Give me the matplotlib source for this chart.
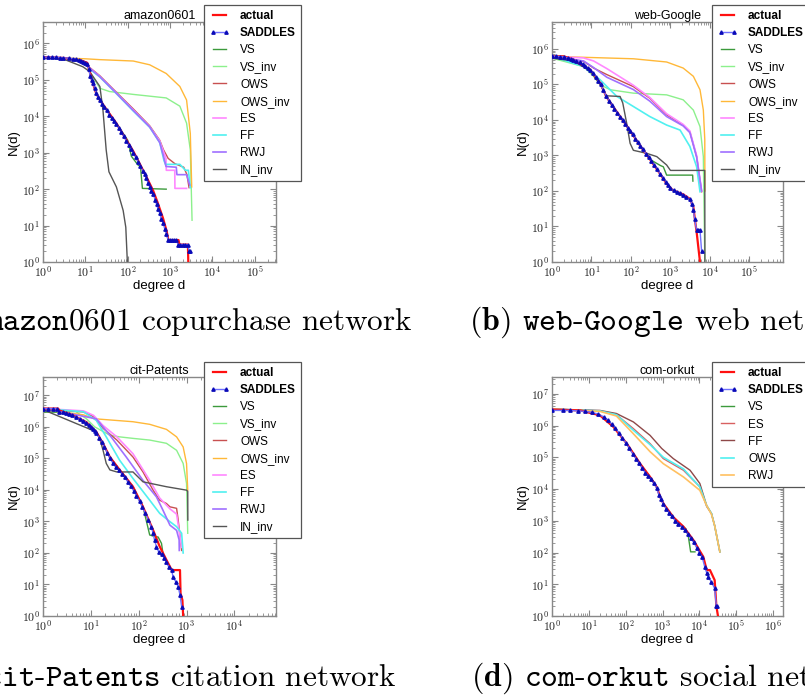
import matplotlib
matplotlib.use("Agg")
import numpy as np
import matplotlib.pyplot as plt
from matplotlib.ticker import LogLocator, FuncFormatter, NullFormatter

plt.rcParams['font.family'] = ['Liberation Sans', 'DejaVu Sans']
plt.rcParams['mathtext.fontset'] = 'cm'

# ---------------- data: (degree d, N(d)) ----------------
# (a) amazon0601
AMZ_ACTUAL = [(1, 4.2e5), (3.2, 4.0e5), (7.9, 3.4e5), (11, 2.95e5), (12.6, 1.7e5), (15, 8.1e4), (18, 4.3e4),
              (22, 2.8e4), (32, 1.5e4), (54, 6.4e3), (135, 1.1e3), (275, 220), (400, 90), (500, 45), (680, 16),
              (830, 7), (910, 4), (1580, 4), (1660, 3), (2630, 3), (2690, 1)]
AMZ_SADDLES = [(1, 4.2e5), (1.3, 4.2e5), (1.6, 4.2e5), (2, 4.15e5), (2.5, 4.1e5), (3, 4.05e5), (4, 3.95e5),
               (5, 3.85e5), (6, 3.7e5), (7, 3.5e5), (8, 3.35e5), (9, 3.15e5), (10, 3.0e5), (11, 2.7e5),
               (12, 2.0e5), (13, 1.3e5), (14, 1.0e5), (15, 8.0e4), (16.5, 6.0e4), (18, 4.4e4), (20, 3.4e4),
               (22, 2.8e4), (25, 2.2e4), (28, 1.8e4), (32, 1.45e4), (37, 1.1e4), (42, 8.8e3), (48, 7.3e3),
               (54, 6.2e3), (62, 4.8e3), (71, 3.7e3), (81, 2.8e3), (93, 2.1e3), (106, 1.6e3), (120, 1.3e3),
               (135, 1.0e3), (155, 750), (175, 560), (200, 420), (225, 320), (250, 260), (275, 200), (300, 150),
               (330, 115), (360, 90), (400, 75), (440, 52), (480, 38), (520, 28), (570, 22), (620, 15),
               (680, 12), (750, 8), (820, 6), (900, 4), (1000, 4), (1100, 4), (1250, 4), (1400, 4), (1550, 3),
               (1750, 3), (2000, 3), (2300, 3), (2600, 3), (2800, 2), (3000, 2)]
AMZ_VS = [(1, 4.2e5), (3.2, 4.0e5), (7.9, 3.4e5), (11, 2.95e5), (12.6, 1.7e5), (15, 8.1e4), (18, 4.3e4),
          (22, 2.8e4), (32, 1.5e4), (54, 6.4e3), (100, 2.2e3), (122, 800), (175, 460), (200, 420), (222, 105),
          (810, 100)]
AMZ_VS_INV = [(1, 4.2e5), (3.2, 4.0e5), (7.9, 3.4e5), (11, 2.95e5), (12.6, 1.7e5), (22, 5.9e4), (37, 4.8e4),
              (135, 4.0e4), (810, 3.2e4), (1700, 1.9e4), (2450, 6.5e3), (3000, 1.2e3), (3300, 14)]
AMZ_OWS = [(1, 4.2e5), (3.2, 4.0e5), (7.9, 3.4e5), (11, 2.95e5), (12.6, 2.2e5), (22, 1.3e5), (54, 4.6e4),
           (135, 1.6e4), (330, 5.5e3), (570, 2.2e3), (700, 1.2e3), (900, 700), (1300, 500), (2100, 400),
           (2500, 250), (2800, 110)]
AMZ_OWS_INV = [(1, 4.15e5), (10, 3.8e5), (22, 3.6e5), (135, 3.3e5), (330, 2.6e5), (810, 1.5e5), (1700, 6.6e4),
               (2450, 2.8e4), (3000, 3.4e3), (3240, 115)]
AMZ_ES = [(1, 4.2e5), (3.2, 4.0e5), (7.9, 3.4e5), (11, 2.95e5), (12.6, 2.1e5), (22, 1.25e5), (54, 4.4e4),
          (135, 1.5e4), (330, 5.2e3), (570, 2.1e3), (800, 700), (815, 330), (1290, 330), (1300, 105),
          (2450, 105)]
AMZ_FF = [(1, 4.2e5), (3.2, 4.0e5), (7.9, 3.4e5), (11, 2.95e5), (12.6, 2.0e5), (22, 1.2e5), (54, 4.2e4),
          (135, 1.4e4), (330, 5.0e3), (570, 1.9e3), (720, 600), (780, 480), (1700, 480), (2300, 330),
          (2700, 330), (3000, 110)]
AMZ_RWJ = [(1, 4.2e5), (3.2, 4.0e5), (7.9, 3.4e5), (11, 2.95e5), (12.6, 2.1e5), (22, 1.22e5), (54, 4.3e4),
           (135, 1.45e4), (330, 5.1e3), (570, 1.9e3), (700, 800), (800, 420), (1400, 400), (1450, 250),
           (2450, 250), (2900, 130)]
AMZ_IN_INV = [(1, 4.2e5), (3.5, 3.5e5), (8.7, 2.3e5), (12.6, 1.7e5), (22, 6.6e4), (26, 1.5e4), (31, 1.2e3),
              (36, 300), (54, 115), (78, 26), (90, 9), (98, 1)]

# (b) web-Google
WEB_ACTUAL = [(1, 6.2e5), (2, 6.2e5), (3.5, 5.0e5), (9.3, 2.6e5), (16.6, 1.1e5), (23.6, 4.6e4), (36, 2.3e4),
              (53, 1.26e4), (95, 5.0e3), (170, 1.9e3), (300, 790), (550, 300), (800, 160), (1100, 110),
              (1440, 95), (2100, 80), (3100, 60), (3800, 35), (4300, 12), (4600, 7), (5100, 2.5), (5600, 1)]
WEB_SADDLES = [(1, 6.2e5), (1.3, 6.2e5), (1.6, 6.1e5), (2, 6.0e5), (2.5, 5.6e5), (3, 5.3e5), (3.5, 5.0e5),
               (4, 4.7e5), (5, 4.2e5), (6, 3.7e5), (7, 3.3e5), (8, 2.9e5), (9.3, 2.6e5), (11, 2.1e5),
               (13, 1.6e5), (15, 1.25e5), (17, 1.0e5), (20, 7.0e4), (23.6, 4.6e4), (28, 3.5e4), (33, 2.6e4),
               (38, 2.1e4), (45, 1.6e4), (53, 1.25e4), (62, 9.8e3), (72, 7.8e3), (83, 6.0e3), (95, 5.0e3),
               (110, 4.0e3), (130, 3.0e3), (150, 2.4e3), (170, 1.9e3), (200, 1.5e3), (240, 1.1e3), (280, 880),
               (330, 700), (390, 540), (460, 410), (550, 300), (650, 230), (760, 180), (880, 145), (1000, 120),
               (1200, 105), (1440, 95), (1750, 85), (2100, 78), (2500, 68), (3100, 58), (3500, 42), (3800, 30),
               (4100, 16), (4600, 8), (5100, 8), (5600, 8), (6150, 2)]
WEB_VS = [(1, 6.2e5), (2, 6.2e5), (3.5, 5.0e5), (9.3, 2.6e5), (16.6, 1.1e5), (23.6, 4.6e4), (36, 2.3e4),
          (53, 1.26e4), (95, 5.0e3), (170, 1.9e3), (300, 790), (370, 680), (560, 520), (660, 480), (800, 280),
          (3650, 280), (3700, 190)]
WEB_VS_INV = [(1, 5.5e5), (6.3, 3.2e5), (11.3, 1.7e5), (16.6, 9.8e4), (30, 7.1e4), (115, 5.7e4), (800, 5.1e4),
              (2100, 3.7e4), (3800, 1.9e4), (5600, 6.5e3), (6800, 930), (7400, 1.1)]
WEB_OWS = [(1, 6.2e5), (6.3, 4.5e5), (11.3, 2.9e5), (24.5, 1.9e5), (115, 8.7e4), (300, 4.1e4), (800, 1.4e4),
           (2100, 7.2e3), (3100, 4.7e3), (4600, 930), (6150, 95)]
WEB_OWS_INV = [(1, 6.2e5), (115, 5.3e5), (800, 4.3e5), (2100, 2.9e5), (3800, 1.7e5), (5600, 7.1e4),
               (6800, 1.9e4), (7400, 2.8e3), (7450, 100)]
WEB_ES = [(1, 6.2e5), (6.3, 5.6e5), (11.3, 4.6e5), (24.5, 2.8e5), (115, 9.5e4), (300, 4.3e4), (800, 1.5e4),
          (2100, 7.5e3), (3100, 4.9e3), (4600, 1.0e3), (6150, 100)]
WEB_FF = [(1, 6.2e5), (6.3, 3.2e5), (16.6, 1.35e5), (44, 4.6e4), (115, 2.4e4), (300, 1.25e4), (800, 7.2e3),
          (1750, 5.2e3), (3100, 1.8e3), (4600, 480), (5600, 95)]
WEB_RWJ = [(1, 6.2e5), (6.3, 4.6e5), (11.3, 3.0e5), (24.5, 1.6e5), (115, 7.2e4), (300, 3.4e4), (800, 1.25e4),
           (2100, 6.8e3), (3100, 4.4e3), (4600, 900), (6150, 100)]
WEB_IN_INV = [(1, 5.5e5), (3.5, 4.6e5), (9.3, 2.4e5), (16.6, 1.0e5), (24, 4.8e4), (53, 4.6e4), (62, 3.0e4),
              (78, 8e3), (95, 2.2e3), (115, 1.4e3), (250, 1.15e3), (450, 930), (800, 540), (1000, 380),
              (7400, 380), (7450, 1)]

# (c) cit-Patents
PAT_ACTUAL = [(1, 3.8e6), (2.06, 3.8e6), (2.2, 3.3e6), (4.25, 2.3e6), (8.1, 1.4e6), (13, 6.9e5), (18, 2.9e5),
              (25, 1.1e5), (40, 4.3e4), (76, 1.26e4), (123, 2.9e3), (200, 530), (275, 160), (380, 60),
              (490, 28.6), (730, 28.6), (750, 5.2), (820, 3.2), (850, 1)]
PAT_SADDLES = [(1, 3.8e6), (1.3, 3.8e6), (1.6, 3.8e6), (2, 3.8e6), (2.2, 3.0e6), (2.6, 2.9e6), (3, 2.7e6),
               (3.5, 2.5e6), (4, 2.3e6), (5, 2.0e6), (6, 1.75e6), (7, 1.55e6), (8, 1.35e6), (9, 1.15e6),
               (10, 1.0e6), (11, 8.5e5), (12, 7.2e5), (13, 6.3e5), (15, 4.5e5), (17, 3.2e5), (19, 2.3e5),
               (22, 1.5e5), (25, 1.0e5), (29, 7.0e4), (33, 5.3e4), (38, 4.3e4), (44, 3.3e4), (51, 2.5e4),
               (59, 1.8e4), (68, 1.3e4), (78, 9.5e3), (90, 6.5e3), (104, 4.3e3), (120, 2.8e3), (138, 1.8e3),
               (160, 1.1e3), (185, 650), (200, 420), (215, 250), (235, 160), (260, 110), (300, 90),
               (340, 70), (380, 50), (430, 35), (490, 28), (525, 17), (600, 12), (670, 8.5), (730, 4.6),
               (790, 2)]
PAT_VS = [(1, 2.95e6), (2.2, 2.9e6), (4.25, 2.2e6), (8.1, 1.4e6), (13, 6.9e5), (18, 2.9e5), (25, 1.1e5),
          (40, 4.3e4), (76, 1.26e4), (123, 2.9e3), (170, 370), (218, 330), (255, 320), (300, 200), (320, 100)]
PAT_VS_INV = [(1, 3.3e6), (4.9, 3.0e6), (8.1, 1.8e6), (12, 1.0e6), (25, 5.4e5), (40, 4.8e5), (76, 4.3e5),
              (170, 3.8e5), (380, 3.0e5), (620, 1.8e5), (850, 6.9e4), (1000, 1.6e4), (1060, 420)]
PAT_OWS = [(1, 3.8e6), (7, 2.95e6), (11.4, 2.1e6), (18, 9e5), (35, 3.8e5), (76, 1.1e5), (123, 3.7e4),
           (200, 9.8e3), (275, 4.7e3), (380, 3.7e3), (450, 2.9e3), (620, 2.6e3), (670, 1.1e3), (790, 120)]
PAT_OWS_INV = [(1, 3.5e6), (7, 2.4e6), (12, 1.8e6), (76, 1.45e6), (170, 1.2e6), (380, 8.3e5), (620, 4.8e5),
               (850, 2.3e5), (1000, 6.9e4), (1060, 9.8e3)]
PAT_ES = [(1, 3.8e6), (7, 3.2e6), (11.4, 2.3e6), (18, 1.1e6), (35, 4.8e5), (76, 1.4e5), (170, 2.0e4),
          (275, 5.5e3), (450, 2.5e3), (620, 1.7e3), (790, 150)]
PAT_FF = [(1, 3.8e6), (7, 3.0e6), (13, 1.6e6), (21, 4.8e5), (40, 8.7e4), (76, 2.3e4), (170, 4.7e3),
          (275, 1.8e3), (450, 980), (620, 680), (790, 420), (850, 100)]
PAT_RWJ = [(1, 3.8e6), (13, 1.8e6), (25, 5.4e5), (55, 1.1e5), (123, 2.0e4), (235, 6.0e3), (320, 2.3e3),
           (450, 760), (620, 520), (700, 260), (705, 120)]
PAT_IN_INV = [(1, 3.5e6), (13, 6.9e5), (15, 4.8e5), (18, 1.8e5), (21, 6.9e4), (25, 4.3e4), (35, 3.7e4),
              (76, 3.7e4), (123, 1.8e4), (380, 1.26e4), (1000, 9.8e3), (1060, 9e3), (1065, 1.1e3)]

# (d) com-orkut
ORK_ACTUAL = [(1, 3.2e6), (5.9, 3.0e6), (20, 2.1e6), (47, 9e5), (107, 2.7e5), (246, 6.3e4), (460, 2.4e4),
              (690, 1.17e4), (860, 5.7e3), (1050, 3.5e3), (1960, 1.3e3), (3700, 650), (6900, 245),
              (12800, 73), (15800, 28), (19400, 28), (26000, 13.5), (29000, 2), (32000, 1)]
ORK_SADDLES = [(1, 3.0e6), (2, 3.0e6), (3, 3.0e6), (5, 2.9e6), (8, 2.8e6), (12, 2.6e6), (18, 2.3e6),
               (25, 1.9e6), (33, 1.5e6), (42, 1.1e6), (52, 8.5e5), (65, 6.0e5), (80, 4.2e5), (100, 2.9e5),
               (125, 1.9e5), (155, 1.3e5), (190, 9.0e4), (230, 6.5e4), (280, 4.5e4), (340, 3.3e4),
               (410, 2.6e4), (490, 2.0e4), (580, 1.5e4), (690, 1.1e4), (800, 6.5e3), (900, 4.8e3),
               (1050, 3.4e3), (1250, 2.4e3), (1500, 1.8e3), (1800, 1.4e3), (2200, 1.0e3), (2700, 800),
               (3300, 650), (4000, 520), (4800, 380), (5800, 280), (7000, 210), (8500, 140), (10000, 100),
               (12000, 70), (14000, 35), (16000, 22), (17400, 17), (21000, 12), (26000, 7.4), (29000, 2),
               (31000, 2)]
ORK_VS = [(1, 3.1e6), (5.9, 3.0e6), (20, 2.1e6), (47, 9e5), (107, 2.7e5), (246, 6.3e4), (460, 2.4e4),
          (690, 1.17e4), (860, 5.7e3), (1050, 3.5e3), (1960, 1.3e3), (3700, 650), (4300, 560), (5000, 330),
          (5800, 105), (7600, 105)]
ORK_ES = [(1, 3.3e6), (20, 2.9e6), (56, 2.2e6), (162, 8e5), (460, 2.7e5), (1050, 9.1e4), (3700, 3.9e4),
          (10300, 1.17e4), (15800, 2.8e3), (21300, 1.7e3), (26000, 700), (36000, 105)]
ORK_FF = [(1, 3.3e6), (20, 3.0e6), (56, 2.4e6), (162, 1.3e6), (460, 4.9e5), (950, 1.9e5), (1960, 9.1e4),
          (5600, 3.9e4), (10300, 1.5e4), (15800, 3.0e3), (21300, 1.7e3), (26000, 700), (36000, 105)]
ORK_OWS = [(1, 3.3e6), (20, 2.9e6), (56, 2.2e6), (162, 7.1e5), (460, 2.5e5), (1050, 1.0e5), (3700, 4.3e4),
           (10300, 1.17e4), (15800, 3.0e3), (21300, 1.7e3), (26000, 700), (36000, 105)]
ORK_RWJ = [(1, 3.3e6), (20, 2.8e6), (56, 2.0e6), (162, 5.5e5), (460, 1.5e5), (1050, 6.3e4), (3700, 2.4e4),
           (10300, 9.1e3), (15800, 3.0e3), (21300, 1.6e3), (26000, 700), (36000, 105)]

TITLES = ['amazon0601', 'web-Google', 'cit-Patents', 'com-orkut']
CAPTIONS = [r'$\mathbf{(a)}$ $\mathtt{amazon0601}$ copurchase network',
            r'$\mathbf{(b)}$ $\mathtt{web}$-$\mathtt{Google}$ web network',
            r'$\mathbf{(c)}$ $\mathtt{cit}$-$\mathtt{Patents}$ citation network',
            r'$\mathbf{(d)}$ $\mathtt{com}$-$\mathtt{orkut}$ social network']

# ---------------- styles ----------------
ST_ACTUAL = dict(color='#ff1010', lw=1.6, zorder=4)
ST_SADDLES = dict(color='#7070ff', lw=1.0, marker='^', ms=2.4, mfc='#0a0ab8', mec='#0a0ab8', zorder=5)
ST_VS = dict(color='#3c9a3c', lw=1.0)
ST_VS_INV = dict(color='#8cf08c', lw=1.0)
ST_OWS = dict(color='#c85050', lw=1.0)
ST_OWS_INV = dict(color='#ffb838', lw=1.0)
ST_ES = dict(color='#ff88ff', lw=1.2)
ST_FF = dict(color='#50f0f0', lw=1.2)
ST_RWJ = dict(color='#a070ff', lw=1.2)
ST_IN_INV = dict(color='#555555', lw=1.0)
# orkut colors
ST_O_ES = dict(color='#d86060', lw=1.0)
ST_O_FF = dict(color='#8e4848', lw=1.0)
ST_O_OWS = dict(color='#50f0f0', lw=1.2)
ST_O_RWJ = dict(color='#ffc060', lw=1.2)

W, H = 805, 696
fig = plt.figure(figsize=(W / 100, H / 100), dpi=100)


def rect(l, t, r, b):
    return [l / W, 1 - b / H, (r - l) / W, (b - t) / H]


panels = [
    dict(rect=rect(43, 22, 276, 262), xmax=10 ** 5.5, ymax=10 ** 6.59, leg=(204, 5),
         series=[('actual', AMZ_ACTUAL, ST_ACTUAL), ('SADDLES', AMZ_SADDLES, ST_SADDLES), ('VS', AMZ_VS, ST_VS),
                 ('VS_inv', AMZ_VS_INV, ST_VS_INV), ('OWS', AMZ_OWS, ST_OWS), ('OWS_inv', AMZ_OWS_INV, ST_OWS_INV),
                 ('ES', AMZ_ES, ST_ES), ('FF', AMZ_FF, ST_FF), ('RWJ', AMZ_RWJ, ST_RWJ),
                 ('IN_inv', AMZ_IN_INV, ST_IN_INV)],
         cap=(413, 322, 'right', 22.5)),
    dict(rect=rect(552, 22, 783, 262), xmax=10 ** 5.85, ymax=10 ** 6.76, leg=(712, 5),
         series=[('actual', WEB_ACTUAL, ST_ACTUAL), ('SADDLES', WEB_SADDLES, ST_SADDLES), ('VS', WEB_VS, ST_VS),
                 ('VS_inv', WEB_VS_INV, ST_VS_INV), ('OWS', WEB_OWS, ST_OWS), ('OWS_inv', WEB_OWS_INV, ST_OWS_INV),
                 ('ES', WEB_ES, ST_ES), ('FF', WEB_FF, ST_FF), ('RWJ', WEB_RWJ, ST_RWJ),
                 ('IN_inv', WEB_IN_INV, ST_IN_INV)],
         cap=(469, 322, 'left', 23)),
    dict(rect=rect(43, 377, 276, 616), xmax=10 ** 4.87, ymax=10 ** 7.58, leg=(204, 362),
         series=[('actual', PAT_ACTUAL, ST_ACTUAL), ('SADDLES', PAT_SADDLES, ST_SADDLES), ('VS', PAT_VS, ST_VS),
                 ('VS_inv', PAT_VS_INV, ST_VS_INV), ('OWS', PAT_OWS, ST_OWS), ('OWS_inv', PAT_OWS_INV, ST_OWS_INV),
                 ('ES', PAT_ES, ST_ES), ('FF', PAT_FF, ST_FF), ('RWJ', PAT_RWJ, ST_RWJ),
                 ('IN_inv', PAT_IN_INV, ST_IN_INV)],
         cap=(396, 678, 'right', 22.5)),
    dict(rect=rect(552, 377, 783, 616), xmax=10 ** 6.27, ymax=10 ** 7.53, leg=(712, 362),
         series=[('actual', ORK_ACTUAL, ST_ACTUAL), ('SADDLES', ORK_SADDLES, ST_SADDLES), ('VS', ORK_VS, ST_VS),
                 ('ES', ORK_ES, ST_O_ES), ('FF', ORK_FF, ST_O_FF), ('OWS', ORK_OWS, ST_O_OWS),
                 ('RWJ', ORK_RWJ, ST_O_RWJ)],
         cap=(471, 678, 'left', 23)),
]

decade_fmt = FuncFormatter(lambda v, p: r'$10^{%d}$' % int(round(np.log10(v))))

for i, p in enumerate(panels):
    ax = fig.add_axes(p['rect'])
    for label, pts, st in p['series']:
        d = [q[0] for q in pts]
        n = [q[1] for q in pts]
        st = dict(st)
        z = st.pop('zorder', 2)
        ax.plot(d, n, label=label, zorder=z, **st)
    ax.set_xscale('log')
    ax.set_yscale('log')
    ax.set_xlim(1, p['xmax'])
    ax.set_ylim(1, p['ymax'])
    for axis in (ax.xaxis, ax.yaxis):
        axis.set_major_locator(LogLocator(base=10, numticks=20))
        axis.set_minor_locator(LogLocator(base=10, subs=np.arange(2, 10), numticks=20))
        axis.set_major_formatter(decade_fmt)
        axis.set_minor_formatter(NullFormatter())
    ax.tick_params(which='both', direction='in', top=True, right=True, color='#888888',
                   labelsize=8.5, labelcolor='#222222', pad=2)
    ax.tick_params(which='major', length=4, width=0.8)
    ax.tick_params(which='minor', length=2, width=0.6)
    for s in ax.spines.values():
        s.set_color('#888888')
        s.set_linewidth(1.0)
    ax.set_xlabel('degree d', fontsize=9.5, labelpad=0)
    ax.set_ylabel('N(d)', fontsize=9.5)
    ax.yaxis.set_label_coords(-0.1, 0.5)
    ax.set_title(TITLES[i], fontsize=9, pad=2)
    lx, ly = p['leg']
    leg = ax.legend(loc='upper left', bbox_to_anchor=(lx / W, 1 - ly / H), bbox_transform=fig.transFigure,
                    fontsize=8.5, numpoints=2, handlelength=1.7, handletextpad=0.9, labelspacing=0.43,
                    borderpad=0.45, borderaxespad=0, fancybox=False, framealpha=1, edgecolor='#555555')
    leg.get_frame().set_linewidth(0.9)
    for t in leg.get_texts()[:2]:
        t.set_fontweight('bold')
    cx, cy, ha, fs = p['cap']
    fig.text(cx / W, 1 - cy / H, CAPTIONS[i], ha=ha, va='center', fontsize=fs, family='cmr10')

fig.savefig('out.png', dpi=100)
